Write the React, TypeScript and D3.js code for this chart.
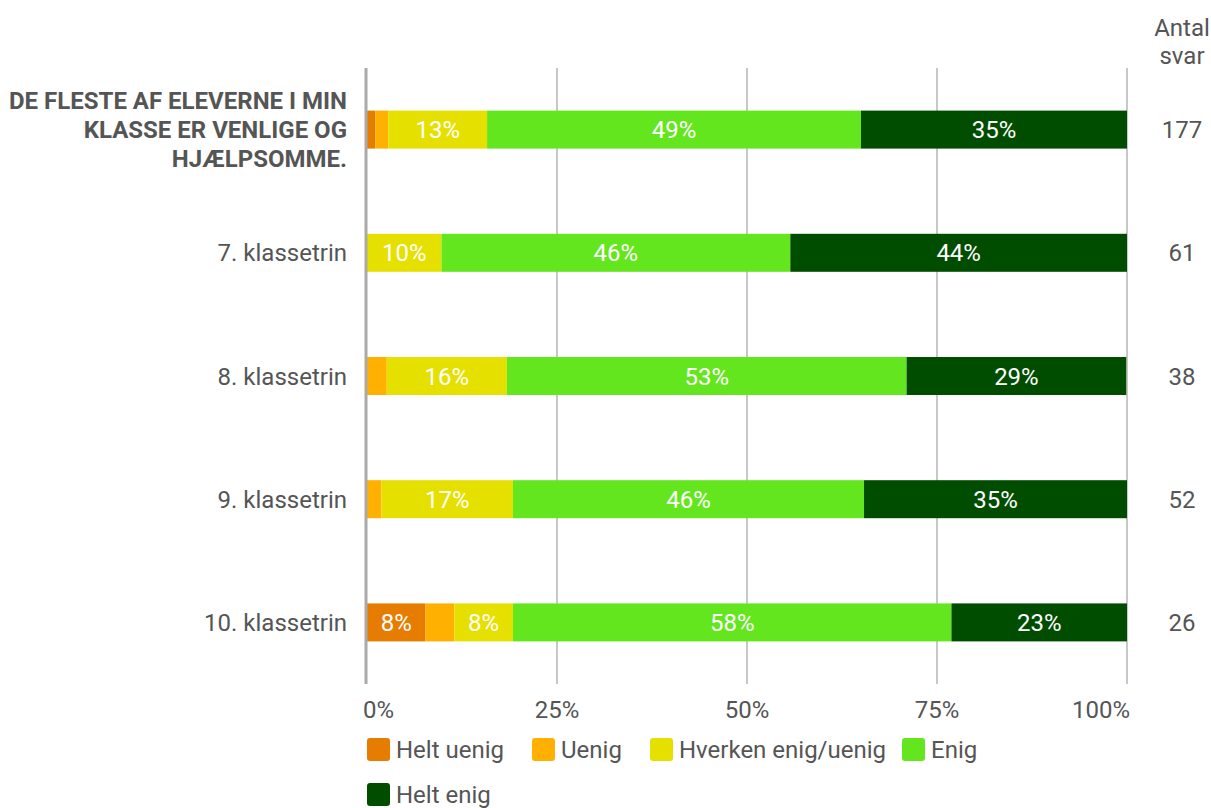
import * as d3 from "d3";

const categories = [
  "title",
  "7. klassetrin",
  "8. klassetrin",
  "9. klassetrin",
  "10. klassetrin",
];
const titleLines = ["DE FLESTE AF ELEVERNE I MIN", "KLASSE ER VENLIGE OG", "HJÆLPSOMME."];
const counts = [177, 61, 38, 52, 26];

const seriesNames = ["Helt uenig", "Uenig", "Hverken enig/uenig", "Enig", "Helt enig"];
const heltUenig = [1.1, 0, 0, 0, 7.7];
const uenig = [1.7, 0, 2.6, 1.9, 3.8];
const hverken = [13.0, 9.8, 15.8, 17.3, 7.7];
const enig = [49.2, 45.9, 52.6, 46.2, 57.7];
const heltEnig = [35.0, 44.3, 28.9, 34.6, 23.1];
const colors = ["#e67c00", "#ffb000", "#e6e000", "#64e61e", "#004d00"];
const ticks = [0, 25, 50, 75, 100];

const FONT = "Roboto, 'Noto Sans', sans-serif";
const TXT = "#555555";
const FS = 24;

export default function App() {
  const width = 1211;
  const height = 808;
  const x = d3.scaleLinear().domain([0, 100]).range([367, 1127]);
  const y = d3.scalePoint<string>().domain(categories).range([68, 684]).padding(0.5);
  const barH = 38;

  const table = categories.map((c, i) => ({
    cat: c,
    [seriesNames[0]]: heltUenig[i],
    [seriesNames[1]]: uenig[i],
    [seriesNames[2]]: hverken[i],
    [seriesNames[3]]: enig[i],
    [seriesNames[4]]: heltEnig[i],
  }));
  const stacked = d3.stack<any>().keys(seriesNames)(table);

  const legendPos = [
    { x: 367, y: 738 },
    { x: 532, y: 738 },
    { x: 650, y: 738 },
    { x: 902, y: 738 },
    { x: 367, y: 783 },
  ];

  return (
    <svg
      width={width}
      height={height}
      style={{ position: "absolute", left: 0, top: 0, background: "#fff" }}
      fontFamily={FONT}
    >
      {/* grid */}
      {ticks.slice(1).map((t) => (
        <line key={t} x1={x(t)} x2={x(t)} y1={68} y2={684} stroke="#aaaaaa" strokeWidth={1.3} />
      ))}

      {/* bars */}
      {stacked.map((s, si) => (
        <g key={s.key}>
          {s.map((d, i) => {
            const w = x(d[1]) - x(d[0]);
            if (w <= 0) return null;
            const cy = y(categories[i])!;
            const pct = d[1] - d[0];
            return (
              <g key={i}>
                <rect x={x(d[0])} y={cy - barH / 2} width={w} height={barH} fill={colors[si]} />
                {pct >= 5 && (
                  <text
                    x={(x(d[0]) + x(d[1])) / 2}
                    y={cy}
                    dy="0.36em"
                    textAnchor="middle"
                    fill="#ffffff"
                    fontSize={FS}
                  >
                    {Math.round(pct)}%
                  </text>
                )}
              </g>
            );
          })}
        </g>
      ))}

      {/* zero line */}
      <line x1={366} x2={366} y1={68} y2={684} stroke="#aaaaaa" strokeWidth={3} />

      {/* category labels */}
      {categories.map((c, i) => {
        const cy = y(c)!;
        if (c === "title") {
          return (
            <text key={c} textAnchor="end" fill="#555555" fontSize={FS} fontWeight="bold">
              {titleLines.map((l, k) => (
                <tspan key={k} x={347} y={cy + (k - 1) * 29} dy="0.36em">
                  {l}
                </tspan>
              ))}
            </text>
          );
        }
        return (
          <text key={c} x={347} y={cy} dy="0.36em" textAnchor="end" fill={TXT} fontSize={FS}>
            {c}
          </text>
        );
      })}

      {/* counts */}
      <text x={1182} y={27} dy="0.36em" textAnchor="middle" fill={TXT} fontSize={FS}>
        Antal
      </text>
      <text x={1182} y={55} dy="0.36em" textAnchor="middle" fill={TXT} fontSize={FS}>
        svar
      </text>
      {counts.map((n, i) => (
        <text key={i} x={1182} y={y(categories[i])!} dy="0.36em" textAnchor="middle" fill={TXT} fontSize={FS}>
          {n}
        </text>
      ))}

      {/* x tick labels */}
      {ticks.map((t, i) => (
        <text
          key={t}
          x={i === 0 ? x(t) - 4 : i === ticks.length - 1 ? x(t) + 3 : x(t)}
          y={709}
          dy="0.36em"
          textAnchor={i === 0 ? "start" : i === ticks.length - 1 ? "end" : "middle"}
          fill={TXT}
          fontSize={FS}
        >
          {t}%
        </text>
      ))}

      {/* legend */}
      {seriesNames.map((n, i) => (
        <g key={n} transform={`translate(${legendPos[i].x},${legendPos[i].y})`}>
          <rect width={23} height={23} rx={3} fill={colors[i]} />
          <text x={29} y={11.5} dy="0.36em" fill={TXT} fontSize={FS}>
            {n}
          </text>
        </g>
      ))}
    </svg>
  );
}
